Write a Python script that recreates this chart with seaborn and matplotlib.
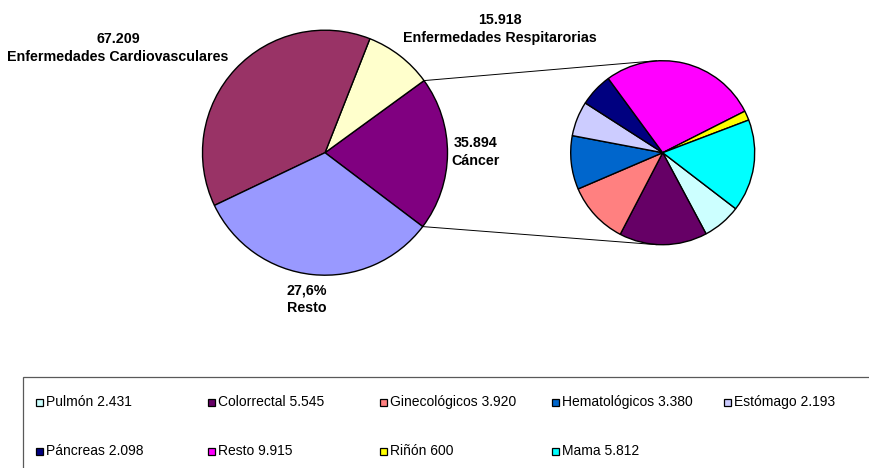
import numpy as np
import matplotlib.pyplot as plt
import seaborn as sns
from matplotlib.patches import Rectangle

# --- Data ---
main_names = ["Cáncer", "Enfermedades Respitarorias", "Enfermedades Cardiovasculares", "Resto"]
main_values = [35894, 15918, 67209, 57600]
main_tags = ["35.894", "15.918", "67.209", "27,6%"]
main_colors = ["#800080", "#FFFFCC", "#993366", "#9999FF"]

cancer_names = ["Pulmón", "Colorrectal", "Ginecológicos", "Hematológicos", "Estómago",
                "Páncreas", "Resto", "Riñón", "Mama"]
cancer_values = [2431, 5545, 3920, 3380, 2193, 2098, 9915, 600, 5812]
cancer_colors = ["#CCFFFF", "#660066", "#FF8080", "#0066CC", "#CCCCFF",
                 "#000080", "#FF00FF", "#FFFF00", "#00FFFF"]

# --- Style ---
sns.set_theme(style="white")
plt.rcParams["font.family"] = ["Liberation Sans", "DejaVu Sans"]
plt.rcParams["text.color"] = "black"

W, H = 869, 468
fig = plt.figure(figsize=(W / 100, H / 100), dpi=100)
ax = fig.add_axes([0, 0, 1, 1])

edge = dict(edgecolor="black", linewidth=1.0)

# main pie
c1, r1 = (325, H - 152.7), 122.5
w1, _ = ax.pie(main_values, colors=main_colors, startangle=-37.1, counterclock=True,
               center=c1, radius=r1, wedgeprops=edge, frame=True)

# cancer breakdown pie
c2, r2 = (662.7, H - 152.7), 92
w2, _ = ax.pie(cancer_values, colors=cancer_colors, startangle=-37.5, counterclock=False,
               center=c2, radius=r2, wedgeprops=edge, frame=True)
ax.set_xlim(0, W)
ax.set_ylim(0, H)
ax.set_aspect("equal")
ax.axis("off")

# connector lines from the cancer wedge to the second pie
cw = w1[0]
for ang, yy in [(cw.theta2, c2[1] + r2), (cw.theta1, c2[1] - r2)]:
    t = np.deg2rad(ang)
    x0, y0 = c1[0] + r1 * np.cos(t), c1[1] + r1 * np.sin(t)
    ax.plot([x0, c2[0] - 6], [y0, yy], color="black", lw=0.7, zorder=0)

# main pie labels
label_pos = [(476, 152), (500, 29), (118, 48), (307, 299)]
for name, tag, (x, y) in zip(main_names, main_tags, label_pos):
    ax.text(x, H - y, f"{tag}\n{name}", ha="center", va="center",
            fontsize=10.3, fontweight="bold", linespacing=1.3)

# legend box
ax.add_patch(Rectangle((22.5, -5), W, H - 376.5 + 5, facecolor="white",
                       edgecolor="0.35", linewidth=0.9, clip_on=False))
for i, (name, val, col) in enumerate(zip(cancer_names, cancer_values, cancer_colors)):
    x = 36 + 172 * (i % 5)
    y = H - (402 if i < 5 else 451)
    ax.add_patch(Rectangle((x, y - 3.5), 7, 7, facecolor=col, edgecolor="black", linewidth=0.9))
    ax.text(x + 10, y, f"{name} {val:,}".replace(",", "."), ha="left", va="center",
            fontsize=10)

plt.savefig("out.png", dpi=100)
